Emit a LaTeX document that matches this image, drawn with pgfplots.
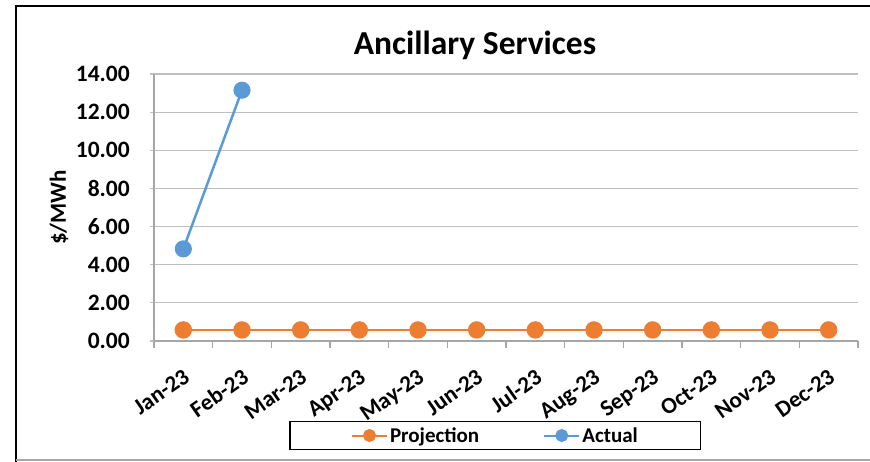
\documentclass[border=0pt]{standalone}
\usepackage{fontspec}
\setmainfont{Carlito}
\usepackage{pgfplots}
\pgfplotsset{compat=1.18}
\definecolor{projc}{HTML}{ED7D31}
\definecolor{actc}{HTML}{5B9BD5}
\definecolor{gridc}{HTML}{BFBFBF}
\definecolor{axc}{HTML}{A6A6A6}
\begin{document}
\begin{tikzpicture}[x=1pt,y=1pt]
\path[use as bounding box] (0,0) rectangle (870,462);
\draw[black, line width=2.5pt] (16,0) -- (16,456) -- (870,456);
\draw[axc, line width=1.2pt] (16,2) -- (870,2);
\node[anchor=base, font=\fontsize{33.5}{36}\selectfont\bfseries] at (475,407) {Ancillary Services};
\begin{axis}[
  at={(154pt,121pt)}, anchor=south west,
  scale only axis, width=704pt, height=267pt,
  xmin=-0.5, xmax=11.5, ymin=0, ymax=14,
  clip=false,
  xtick={0,...,11},
  xticklabels={Jan-23,Feb-23,Mar-23,Apr-23,May-23,Jun-23,Jul-23,Aug-23,Sep-23,Oct-23,Nov-23,Dec-23},
  minor xtick={-0.5,0.5,...,11.5},
  ytick={0,2,...,14},
  axis lines=left,
  axis line style={-, draw=axc, line width=1.2pt},
  tick align=outside,
  major tick length=4pt, minor tick length=7pt,
  every major x tick/.append style={draw=none},
  every minor x tick/.append style={draw=axc, line width=1.2pt},
  every major y tick/.append style={draw=gridc, line width=1.2pt},
  ymajorgrids,
  grid style={gridc, line width=1.2pt},
  /pgf/number format/.cd, fixed, fixed zerofill, precision=2, assume math mode=true, /pgfplots/.cd,
  yticklabel style={font=\fontsize{23.5}{24}\selectfont\bfseries, anchor=east, inner sep=0pt, xshift=-20pt},
  xticklabel style={font=\fontsize{23}{24}\selectfont\bfseries, rotate=35, anchor=north east, inner sep=0pt, xshift=-14pt, yshift=-18pt},
  ylabel={\$/MWh},
  ylabel style={font=\fontsize{23}{24}\selectfont\bfseries, at={(axis description cs:0,0.5)}, anchor=center, yshift=95pt},
  legend columns=2,
  legend style={at={(axis description cs:0.485,-0.354)}, anchor=center, draw=black, line width=1.2pt,
    font=\fontsize{21}{24}\selectfont\bfseries, inner xsep=61pt, inner ysep=4pt,
    /tikz/every even column/.append style={column sep=62pt}},
  legend image code/.code={\draw[mark repeat=2,mark phase=2,#1, line width=2pt, mark size=5.5pt] plot coordinates {(0pt,0pt) (17.5pt,0pt) (35pt,0pt)};},
]
\addplot[projc, line width=2.8pt, mark=*, mark size=7.3pt, mark options={solid}] coordinates {
(0,0.58) (1,0.58) (2,0.58) (3,0.58) (4,0.58) (5,0.58) (6,0.58) (7,0.58) (8,0.58) (9,0.58) (10,0.58) (11,0.58)};
\addplot[actc, line width=2.5pt, mark=*, mark size=7.3pt, mark options={solid}] coordinates {
(0,4.83) (1,13.15)};
\legend{Projection,Actual}
\end{axis}
\end{tikzpicture}
\end{document}
